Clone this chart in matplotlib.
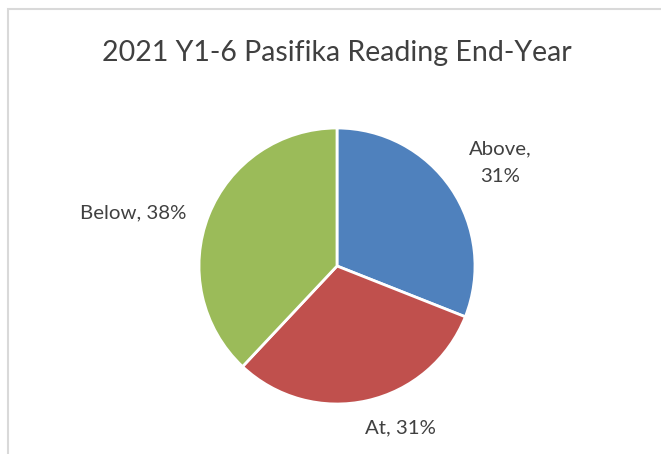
import matplotlib
matplotlib.use("Agg")
import matplotlib.pyplot as plt
from matplotlib.patches import Rectangle

categories = ["Above", "At", "Below"]
shares = [31, 31, 38]
colors = ["#4F81BD", "#C0504D", "#9BBB59"]
title = "2021 Y1-6 Pasifika Reading End-Year"

plt.rcParams["font.family"] = ["Lato", "DejaVu Sans"]
text_color = "#404040"

W, H = 661, 454
fig = plt.figure(figsize=(W / 100, H / 100), dpi=100)

# chart-area frame (extends past the right/bottom edge)
fig.patches.append(Rectangle((7.5 / W, -0.1), 1.2, 1.1 - 9.5 / H,
                             transform=fig.transFigure, fill=False,
                             edgecolor="#d9d9d9", linewidth=1.5))

cx, cy, r = 337, 266, 138
ax = fig.add_axes([(cx - r) / W, (H - cy - r) / H, 2 * r / W, 2 * r / H])
ax.pie(shares, colors=colors, startangle=90, counterclock=False, radius=1,
       wedgeprops=dict(edgecolor="white", linewidth=2))
ax.set_xlim(-1, 1)
ax.set_ylim(-1, 1)
ax.set_aspect("equal")
ax.axis("off")

fig.text(cx / W, 1 - 53 / H, title, ha="center", va="center",
         fontsize=20.5, color=text_color)

label_pos = [(500, 163), (400, 428), (133, 213)]
label_text = [f"{categories[0]},\n{shares[0]}%",
              f"{categories[1]}, {shares[1]}%",
              f"{categories[2]}, {shares[2]}%"]
for (x, y), t in zip(label_pos, label_text):
    fig.text(x / W, 1 - y / H, t, ha="center", va="center",
             fontsize=14.7, color=text_color, linespacing=1.75)

fig.savefig("out.png", dpi=100, facecolor="white")
